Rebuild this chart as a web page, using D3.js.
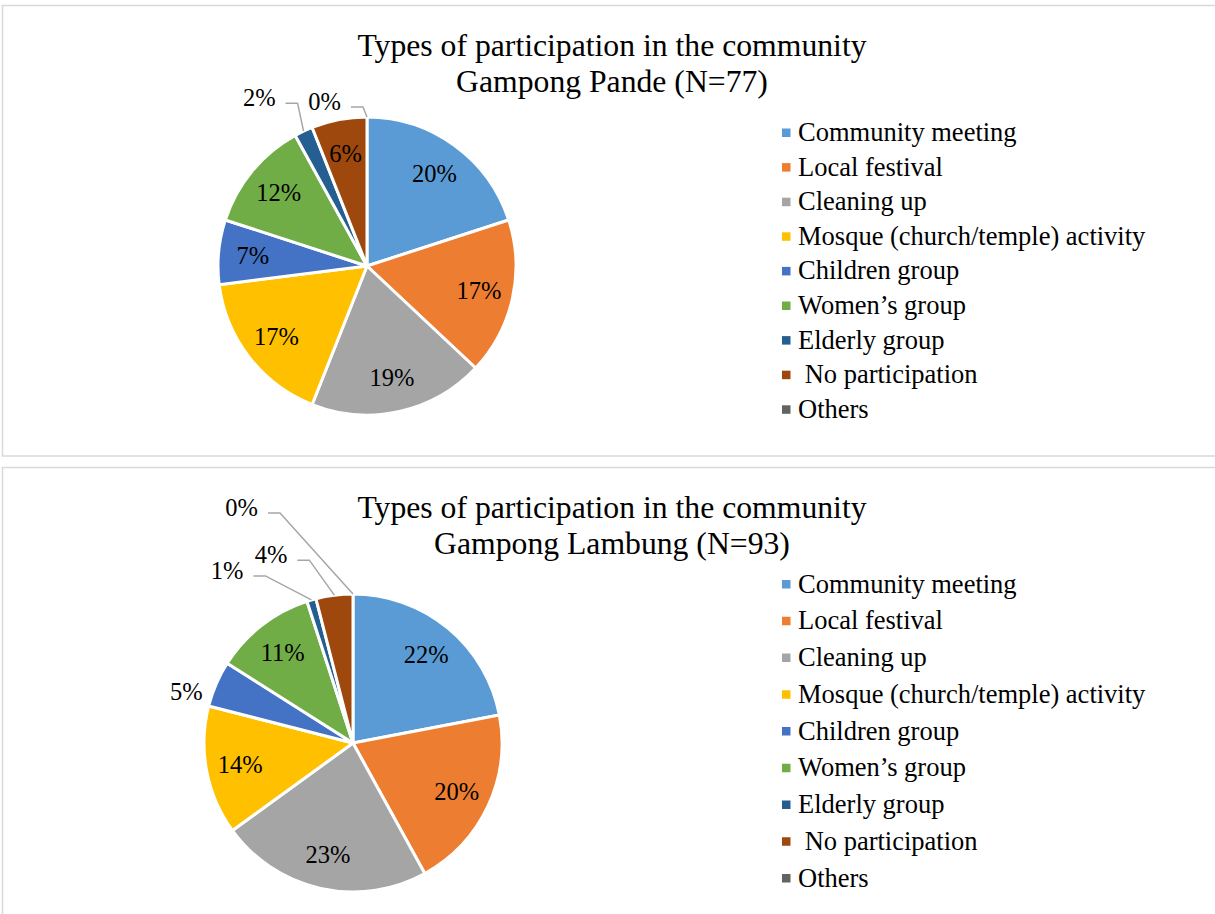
<!DOCTYPE html>
<html>
<head>
<meta charset="utf-8">
<script src="https://cdn.jsdelivr.net/npm/d3@7"></script>
<style>
  html, body { margin: 0; padding: 0; background: #fff; }
  svg { display: block; font-family: "Liberation Serif", "Times New Roman", serif; }
</style>
</head>
<body>
<svg id="chart" width="1215" height="914"></svg>
<script>
// Participation categories shared by both villages
const categories = [
  "Community meeting",
  "Local festival",
  "Cleaning up",
  "Mosque (church/temple) activity",
  "Children group",
  "Women\u2019s group",
  "Elderly group",
  " No participation",
  "Others"
];

// Share of responses (%) per category
const pandeValues   = [20, 17, 19, 17, 7, 12, 2, 6, 0];
const lambungValues = [22, 20, 23, 14, 5, 11, 1, 4, 0];

const pandeTitle   = ["Types of participation in the community", "Gampong Pande (N=77)"];
const lambungTitle = ["Types of participation in the community", "Gampong Lambung (N=93)"];

// Office-style slice palette
const palette = ["#5B9BD5", "#ED7D31", "#A5A5A5", "#FFC000", "#4472C4",
                 "#70AD47", "#255E91", "#9E480E", "#636363"];

const svg = d3.select("#chart");
const color = d3.scaleOrdinal().domain(categories).range(palette);

// Panel layout and callout placement for small slices
const panels = [
  {
    title: pandeTitle, values: pandeValues,
    frameY: 5.5, frameH: 450.5,
    cx: 367, cy: 266, r: 149,
    titleY: 55.5, legendY: 141, legendStep: 34.6,
    callouts: {
      "Elderly group": { dx: -6, dy: -28, leader: true },
      "Others":        { dx: -4, dy: -10, leader: true }
    }
  },
  {
    title: lambungTitle, values: lambungValues,
    frameY: 467.5, frameH: 460,
    cx: 353, cy: 743, r: 149,
    titleY: 517.5, legendY: 592.5, legendStep: 36.75,
    callouts: {
      "Children group":   { dx: -30, dy: 8, leader: false },
      "Elderly group":    { dx: -46, dy: -24, leader: true },
      " No participation": { dx: -25, dy: -35, leader: true },
      "Others":           { dx: -73, dy: -81, leader: true }
    }
  }
];

const pie = d3.pie().sort(null).value(d => d.value);

panels.forEach(p => {
  const g = svg.append("g");

  // chart frame
  g.append("rect")
    .attr("x", 2.5).attr("y", p.frameY)
    .attr("width", 1240).attr("height", p.frameH)
    .attr("fill", "#fff")
    .attr("stroke", "#D9D9D9").attr("stroke-width", 1.5);

  // title
  const title = g.append("text")
    .attr("x", 612).attr("y", p.titleY)
    .attr("text-anchor", "middle")
    .attr("font-size", 31.7).attr("fill", "#000");
  p.title.forEach((line, i) => {
    title.append("tspan").attr("x", 612).attr("dy", i === 0 ? 0 : 36.5).text(line);
  });

  const data = categories.map((c, i) => ({ category: c, value: p.values[i] }));
  const arcs = pie(data);
  const arc = d3.arc().innerRadius(0).outerRadius(p.r);

  const pieG = g.append("g").attr("transform", `translate(${p.cx},${p.cy})`);

  pieG.selectAll("path.slice")
    .data(arcs.filter(a => a.data.value > 0))
    .join("path")
    .attr("class", "slice")
    .attr("d", arc)
    .attr("fill", a => color(a.data.category))
    .attr("stroke", "#fff")
    .attr("stroke-width", 3)
    .attr("stroke-linejoin", "round");

  const polar = (angle, radius) => [radius * Math.sin(angle), -radius * Math.cos(angle)];

  arcs.forEach(a => {
    const mid = (a.startAngle + a.endAngle) / 2;
    const label = a.data.value + "%";
    const callout = p.callouts[a.data.category];

    if (!callout) {
      const [x, y] = polar(mid, p.r * 0.77);
      pieG.append("text")
        .attr("x", x).attr("y", y).attr("dy", "0.34em")
        .attr("text-anchor", "middle")
        .attr("font-size", 24.5).attr("fill", "#000")
        .text(label);
      return;
    }

    const [ax, ay] = polar(mid, p.r);
    const ex = ax + callout.dx, ey = ay + callout.dy;

    if (callout.leader) {
      pieG.append("polyline")
        .attr("points", [[ax, ay], [ex, ey], [ex - 12, ey]].map(q => q.join(",")).join(" "))
        .attr("fill", "none")
        .attr("stroke", "#A6A6A6").attr("stroke-width", 1.5);
      pieG.append("text")
        .attr("x", ex - 22).attr("y", ey + 3)
        .attr("text-anchor", "end")
        .attr("font-size", 24.5).attr("fill", "#000")
        .text(label);
    } else {
      pieG.append("text")
        .attr("x", ax + callout.dx).attr("y", ay + callout.dy).attr("dy", "0.34em")
        .attr("text-anchor", "middle")
        .attr("font-size", 24.5).attr("fill", "#000")
        .text(label);
    }
  });

  // legend
  const legendY = d3.scalePoint()
    .domain(categories)
    .range([p.legendY, p.legendY + p.legendStep * (categories.length - 1)]);

  const items = g.append("g").selectAll("g")
    .data(categories)
    .join("g")
    .attr("transform", c => `translate(0,${legendY(c)})`);

  items.append("rect")
    .attr("x", 782).attr("y", -12.5)
    .attr("width", 8.5).attr("height", 8.5)
    .attr("fill", c => color(c));

  items.append("text")
    .attr("x", 798).attr("y", 0)
    .attr("font-size", 26.5).attr("fill", "#000")
    .style("white-space", "pre")
    .text(c => c);
});
</script>
</body>
</html>
